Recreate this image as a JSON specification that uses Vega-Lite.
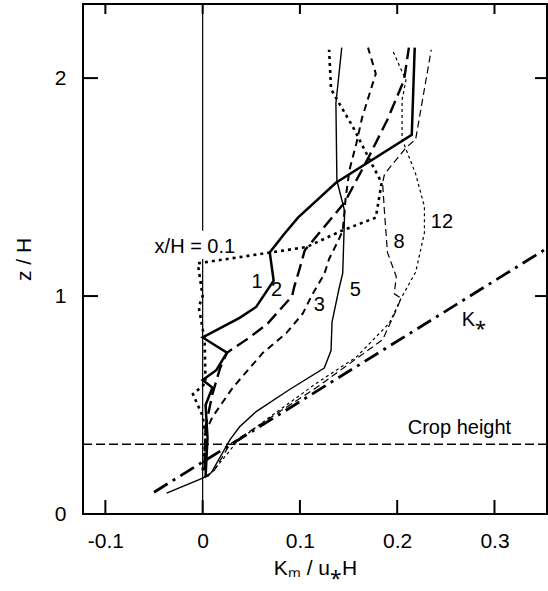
{
  "$schema": "https://vega.github.io/schema/vega-lite/v6.json",
  "autosize": "none",
  "width": 464,
  "height": 510,
  "padding": {"left": 83, "top": 4, "right": 1, "bottom": 77},
  "background": "white",
  "config": {
    "view": {"stroke": "black", "strokeWidth": 2},
    "font": "Liberation Sans",
    "axis": {"grid": false, "domain": false, "ticks": false, "labelColor": "black", "titleColor": "black", "labelFont": "Liberation Sans", "titleFont": "Liberation Sans", "labelFontSize": 21, "titleFontSize": 21, "titleFontWeight": "normal"}
  },
  "datasets": {
    "curves": [
      {"c": "0.1", "x": 0.0, "z": 0.2},
      {"c": "0.1", "x": 0.003, "z": 0.35},
      {"c": "0.1", "x": 0.0, "z": 0.45},
      {"c": "0.1", "x": -0.01, "z": 0.55},
      {"c": "0.1", "x": 0.003, "z": 0.6},
      {"c": "0.1", "x": 0.002, "z": 0.8},
      {"c": "0.1", "x": -0.004, "z": 0.95},
      {"c": "0.1", "x": 0.0, "z": 1.0},
      {"c": "0.1", "x": -0.005, "z": 1.15},
      {"c": "0.1", "x": 0.07, "z": 1.2},
      {"c": "0.1", "x": 0.107, "z": 1.225},
      {"c": "0.1", "x": 0.143, "z": 1.3},
      {"c": "0.1", "x": 0.178, "z": 1.36},
      {"c": "0.1", "x": 0.184, "z": 1.52},
      {"c": "0.1", "x": 0.17, "z": 1.64},
      {"c": "0.1", "x": 0.154, "z": 1.78},
      {"c": "0.1", "x": 0.137, "z": 1.91},
      {"c": "0.1", "x": 0.132, "z": 1.95},
      {"c": "0.1", "x": 0.13, "z": 2.13},

      {"c": "1", "x": 0.003, "z": 0.17},
      {"c": "1", "x": 0.005, "z": 0.35},
      {"c": "1", "x": 0.003, "z": 0.5},
      {"c": "1", "x": 0.01, "z": 0.58},
      {"c": "1", "x": 0.0, "z": 0.615},
      {"c": "1", "x": 0.014, "z": 0.66},
      {"c": "1", "x": 0.025, "z": 0.74},
      {"c": "1", "x": 0.0, "z": 0.81},
      {"c": "1", "x": 0.038, "z": 0.9},
      {"c": "1", "x": 0.055, "z": 0.95},
      {"c": "1", "x": 0.073, "z": 1.07},
      {"c": "1", "x": 0.069, "z": 1.2},
      {"c": "1", "x": 0.083, "z": 1.28},
      {"c": "1", "x": 0.098, "z": 1.36},
      {"c": "1", "x": 0.137, "z": 1.52},
      {"c": "1", "x": 0.215, "z": 1.74},
      {"c": "1", "x": 0.218, "z": 2.14},

      {"c": "2", "x": 0.002, "z": 0.2},
      {"c": "2", "x": 0.003, "z": 0.4},
      {"c": "2", "x": 0.01, "z": 0.55},
      {"c": "2", "x": 0.018, "z": 0.67},
      {"c": "2", "x": 0.025, "z": 0.74},
      {"c": "2", "x": 0.045, "z": 0.8},
      {"c": "2", "x": 0.066, "z": 0.87},
      {"c": "2", "x": 0.082, "z": 0.95},
      {"c": "2", "x": 0.092, "z": 1.0},
      {"c": "2", "x": 0.094, "z": 1.04},
      {"c": "2", "x": 0.1, "z": 1.13},
      {"c": "2", "x": 0.105, "z": 1.21},
      {"c": "2", "x": 0.12, "z": 1.29},
      {"c": "2", "x": 0.146, "z": 1.43},
      {"c": "2", "x": 0.171, "z": 1.64},
      {"c": "2", "x": 0.19, "z": 1.81},
      {"c": "2", "x": 0.207, "z": 1.99},
      {"c": "2", "x": 0.212, "z": 2.14},

      {"c": "3", "x": 0.002, "z": 0.25},
      {"c": "3", "x": 0.004, "z": 0.385},
      {"c": "3", "x": 0.01, "z": 0.445},
      {"c": "3", "x": 0.031, "z": 0.58},
      {"c": "3", "x": 0.062, "z": 0.74},
      {"c": "3", "x": 0.086, "z": 0.83},
      {"c": "3", "x": 0.103, "z": 0.92},
      {"c": "3", "x": 0.113, "z": 1.01},
      {"c": "3", "x": 0.125, "z": 1.1},
      {"c": "3", "x": 0.13, "z": 1.17},
      {"c": "3", "x": 0.14, "z": 1.26},
      {"c": "3", "x": 0.144, "z": 1.3},
      {"c": "3", "x": 0.147, "z": 1.45},
      {"c": "3", "x": 0.151, "z": 1.58},
      {"c": "3", "x": 0.158, "z": 1.7},
      {"c": "3", "x": 0.164, "z": 1.82},
      {"c": "3", "x": 0.178, "z": 2.02},
      {"c": "3", "x": 0.17, "z": 2.14},

      {"c": "5", "x": -0.037, "z": 0.096},
      {"c": "5", "x": 0.0, "z": 0.165},
      {"c": "5", "x": 0.009, "z": 0.19},
      {"c": "5", "x": 0.028, "z": 0.34},
      {"c": "5", "x": 0.038, "z": 0.4},
      {"c": "5", "x": 0.055, "z": 0.47},
      {"c": "5", "x": 0.089, "z": 0.57},
      {"c": "5", "x": 0.125, "z": 0.67},
      {"c": "5", "x": 0.132, "z": 0.75},
      {"c": "5", "x": 0.133, "z": 0.88},
      {"c": "5", "x": 0.14, "z": 1.03},
      {"c": "5", "x": 0.144, "z": 1.105},
      {"c": "5", "x": 0.146, "z": 1.39},
      {"c": "5", "x": 0.138, "z": 1.53},
      {"c": "5", "x": 0.137, "z": 1.885},
      {"c": "5", "x": 0.143, "z": 2.14},

      {"c": "8", "x": 0.002, "z": 0.165},
      {"c": "8", "x": 0.012, "z": 0.2},
      {"c": "8", "x": 0.028, "z": 0.32},
      {"c": "8", "x": 0.069, "z": 0.44},
      {"c": "8", "x": 0.117, "z": 0.58},
      {"c": "8", "x": 0.151, "z": 0.69},
      {"c": "8", "x": 0.185, "z": 0.8},
      {"c": "8", "x": 0.199, "z": 0.935},
      {"c": "8", "x": 0.204, "z": 0.99},
      {"c": "8", "x": 0.197, "z": 1.01},
      {"c": "8", "x": 0.199, "z": 1.09},
      {"c": "8", "x": 0.19, "z": 1.2},
      {"c": "8", "x": 0.187, "z": 1.38},
      {"c": "8", "x": 0.185, "z": 1.52},
      {"c": "8", "x": 0.187, "z": 1.56},
      {"c": "8", "x": 0.209, "z": 1.68},
      {"c": "8", "x": 0.219, "z": 1.72},
      {"c": "8", "x": 0.235, "z": 2.13},

      {"c": "12", "x": 0.005, "z": 0.17},
      {"c": "12", "x": 0.015, "z": 0.22},
      {"c": "12", "x": 0.035, "z": 0.33},
      {"c": "12", "x": 0.069, "z": 0.445},
      {"c": "12", "x": 0.117, "z": 0.6},
      {"c": "12", "x": 0.158, "z": 0.72},
      {"c": "12", "x": 0.192, "z": 0.876},
      {"c": "12", "x": 0.204, "z": 0.99},
      {"c": "12", "x": 0.219, "z": 1.11},
      {"c": "12", "x": 0.228, "z": 1.29},
      {"c": "12", "x": 0.228, "z": 1.41},
      {"c": "12", "x": 0.219, "z": 1.56},
      {"c": "12", "x": 0.205, "z": 1.72},
      {"c": "12", "x": 0.205, "z": 1.9},
      {"c": "12", "x": 0.209, "z": 1.99},
      {"c": "12", "x": 0.195, "z": 2.13},

      {"c": "K", "x": -0.05, "z": 0.1},
      {"c": "K", "x": 0.36, "z": 1.236}
    ],
    "labels": [
      {"t": "x/H = 0.1", "x": -0.008, "z": 1.225},
      {"t": "1", "x": 0.056, "z": 1.065},
      {"t": "2", "x": 0.076, "z": 1.03},
      {"t": "3", "x": 0.12, "z": 0.96},
      {"t": "5", "x": 0.157, "z": 1.03},
      {"t": "8", "x": 0.202, "z": 1.25},
      {"t": "12", "x": 0.246, "z": 1.34},
      {"t": "K⁎", "x": 0.279, "z": 0.89},
      {"t": "Crop height", "x": 0.264, "z": 0.395}
    ],
    "xticks": [{"v": -0.1}, {"v": 0}, {"v": 0.1}, {"v": 0.2}, {"v": 0.3}],
    "yticks": [{"v": 0}, {"v": 1}, {"v": 2}]
  },
  "layer": [
    {
      "data": {"values": [{}]},
      "mark": {"type": "rule", "color": "black", "strokeWidth": 1.2},
      "encoding": {
        "x": {"datum": 0, "type": "quantitative", "scale": {"domain": [-0.123, 0.354], "nice": false, "zero": false},
          "axis": {"orient": "bottom", "values": [-0.1, 0, 0.1, 0.2, 0.3], "labelPadding": 16, "labelExpr": "datum.value < 0 ? '-' + format(-datum.value, '.1f') : (datum.value == 0 ? '0' : format(datum.value, '.1f'))", "title": "Kₘ / u⁎H", "titlePadding": 6}},
        "y": {"datum": 0, "type": "quantitative", "scale": {"domain": [0, 2.34], "nice": false, "zero": false},
          "axis": {"orient": "left", "values": [0, 1, 2], "labelPadding": 17, "format": "d", "title": "z  /  H", "titlePadding": 20}},
        "y2": {"datum": 1.17}
      }
    },
    {
      "data": {"values": [{}]},
      "mark": {"type": "rule", "color": "black", "strokeWidth": 1.2},
      "encoding": {
        "x": {"datum": 0, "type": "quantitative"},
        "y": {"datum": 1.3, "type": "quantitative"},
        "y2": {"datum": 2.34}
      }
    },
    {
      "data": {"name": "xticks"},
      "mark": {"type": "rule", "color": "black", "strokeWidth": 2, "opacity": 1},
      "encoding": {
        "x": {"field": "v", "type": "quantitative"},
        "y": {"datum": 0, "type": "quantitative"},
        "y2": {"datum": 0.064}
      }
    },
    {
      "data": {"name": "xticks"},
      "mark": {"type": "rule", "color": "black", "strokeWidth": 2, "opacity": 1},
      "encoding": {
        "x": {"field": "v", "type": "quantitative"},
        "y": {"datum": 2.34, "type": "quantitative"},
        "y2": {"datum": 2.294}
      }
    },
    {
      "data": {"name": "yticks"},
      "mark": {"type": "rule", "color": "black", "strokeWidth": 2, "opacity": 1},
      "encoding": {
        "y": {"field": "v", "type": "quantitative"},
        "x": {"datum": -0.123, "type": "quantitative"},
        "x2": {"datum": -0.1076}
      }
    },
    {
      "data": {"name": "yticks"},
      "transform": [{"filter": "datum.v > 0"}],
      "mark": {"type": "rule", "color": "black", "strokeWidth": 2, "opacity": 1},
      "encoding": {
        "y": {"field": "v", "type": "quantitative"},
        "x": {"datum": 0.354, "type": "quantitative"},
        "x2": {"datum": 0.3417}
      }
    },
    {
      "data": {"values": [{}]},
      "mark": {"type": "rule", "color": "black", "strokeWidth": 1.3, "strokeDash": [9, 4]},
      "encoding": {
        "y": {"datum": 0.32, "type": "quantitative"}
      }
    },
    {
      "data": {"name": "curves"},
      "transform": [{"filter": "datum.c == '12'"}],
      "mark": {"type": "line", "color": "black", "strokeWidth": 1.2, "strokeDash": [3, 3]},
      "encoding": {"x": {"field": "x", "type": "quantitative"}, "y": {"field": "z", "type": "quantitative"}, "order": {"value": null}}
    },
    {
      "data": {"name": "curves"},
      "transform": [{"filter": "datum.c == '8'"}],
      "mark": {"type": "line", "color": "black", "strokeWidth": 1.2, "strokeDash": [7, 4]},
      "encoding": {"x": {"field": "x", "type": "quantitative"}, "y": {"field": "z", "type": "quantitative"}, "order": {"value": null}}
    },
    {
      "data": {"name": "curves"},
      "transform": [{"filter": "datum.c == '5'"}],
      "mark": {"type": "line", "color": "black", "strokeWidth": 1.4},
      "encoding": {"x": {"field": "x", "type": "quantitative"}, "y": {"field": "z", "type": "quantitative"}, "order": {"value": null}}
    },
    {
      "data": {"name": "curves"},
      "transform": [{"filter": "datum.c == '3'"}],
      "mark": {"type": "line", "color": "black", "strokeWidth": 2, "strokeDash": [7, 5]},
      "encoding": {"x": {"field": "x", "type": "quantitative"}, "y": {"field": "z", "type": "quantitative"}, "order": {"value": null}}
    },
    {
      "data": {"name": "curves"},
      "transform": [{"filter": "datum.c == '2'"}],
      "mark": {"type": "line", "color": "black", "strokeWidth": 2.4, "strokeDash": [13, 6]},
      "encoding": {"x": {"field": "x", "type": "quantitative"}, "y": {"field": "z", "type": "quantitative"}, "order": {"value": null}}
    },
    {
      "data": {"name": "curves"},
      "transform": [{"filter": "datum.c == '1'"}],
      "mark": {"type": "line", "color": "black", "strokeWidth": 2.5},
      "encoding": {"x": {"field": "x", "type": "quantitative"}, "y": {"field": "z", "type": "quantitative"}, "order": {"value": null}}
    },
    {
      "data": {"name": "curves"},
      "transform": [{"filter": "datum.c == '0.1'"}],
      "mark": {"type": "line", "color": "black", "strokeWidth": 2.6, "strokeDash": [3, 4]},
      "encoding": {"x": {"field": "x", "type": "quantitative"}, "y": {"field": "z", "type": "quantitative"}, "order": {"value": null}}
    },
    {
      "data": {"name": "curves"},
      "transform": [{"filter": "datum.c == 'K'"}],
      "mark": {"type": "line", "color": "black", "strokeWidth": 2.8, "strokeDash": [16, 6, 3, 6], "clip": true},
      "encoding": {"x": {"field": "x", "type": "quantitative"}, "y": {"field": "z", "type": "quantitative"}, "order": {"value": null}}
    },
    {
      "data": {"name": "labels"},
      "mark": {"type": "text", "font": "Liberation Sans", "fontSize": 20, "color": "black", "align": "center", "baseline": "middle"},
      "encoding": {"x": {"field": "x", "type": "quantitative"}, "y": {"field": "z", "type": "quantitative"}, "text": {"field": "t"}}
    }
  ]
}
